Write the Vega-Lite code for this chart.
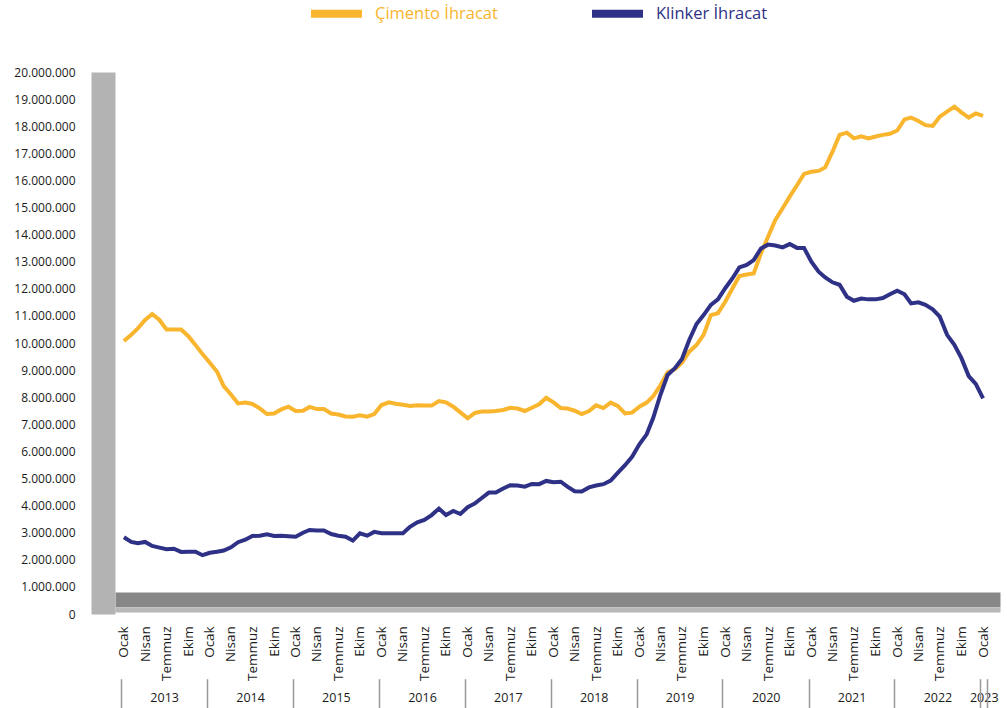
{
  "$schema": "https://vega.github.io/schema/vega-lite/v6.json",
  "width": 885,
  "height": 542,
  "autosize": {"type": "none"},
  "padding": {"left": 115, "top": 72, "right": 7, "bottom": 94},
  "background": "white",
  "config": {
    "view": {"stroke": null},
    "font": "Open Sans",
    "axis": {"grid": false, "title": null, "labelFont": "Open Sans", "labelColor": "#1a1a1a", "labelFlush": false, "labelBound": false, "labelOverlap": false},
    "legend": {"labelFont": "Open Sans"}
  },
  "data": {
    "values": [
      {"date": "2013/01/01", "Çimento İhracat": 10070000, "Klinker İhracat": 2830000},
      {"date": "2013/02/01", "Çimento İhracat": 10300000, "Klinker İhracat": 2660000},
      {"date": "2013/03/01", "Çimento İhracat": 10540000, "Klinker İhracat": 2610000},
      {"date": "2013/04/01", "Çimento İhracat": 10850000, "Klinker İhracat": 2660000},
      {"date": "2013/05/01", "Çimento İhracat": 11070000, "Klinker İhracat": 2510000},
      {"date": "2013/06/01", "Çimento İhracat": 10850000, "Klinker İhracat": 2450000},
      {"date": "2013/07/01", "Çimento İhracat": 10500000, "Klinker İhracat": 2390000},
      {"date": "2013/08/01", "Çimento İhracat": 10500000, "Klinker İhracat": 2410000},
      {"date": "2013/09/01", "Çimento İhracat": 10500000, "Klinker İhracat": 2290000},
      {"date": "2013/10/01", "Çimento İhracat": 10260000, "Klinker İhracat": 2300000},
      {"date": "2013/11/01", "Çimento İhracat": 9930000, "Klinker İhracat": 2300000},
      {"date": "2013/12/01", "Çimento İhracat": 9590000, "Klinker İhracat": 2170000},
      {"date": "2014/01/01", "Çimento İhracat": 9270000, "Klinker İhracat": 2260000},
      {"date": "2014/02/01", "Çimento İhracat": 8940000, "Klinker İhracat": 2300000},
      {"date": "2014/03/01", "Çimento İhracat": 8410000, "Klinker İhracat": 2340000},
      {"date": "2014/04/01", "Çimento İhracat": 8100000, "Klinker İhracat": 2460000},
      {"date": "2014/05/01", "Çimento İhracat": 7770000, "Klinker İhracat": 2650000},
      {"date": "2014/06/01", "Çimento İhracat": 7800000, "Klinker İhracat": 2740000},
      {"date": "2014/07/01", "Çimento İhracat": 7750000, "Klinker İhracat": 2880000},
      {"date": "2014/08/01", "Çimento İhracat": 7590000, "Klinker İhracat": 2890000},
      {"date": "2014/09/01", "Çimento İhracat": 7380000, "Klinker İhracat": 2940000},
      {"date": "2014/10/01", "Çimento İhracat": 7400000, "Klinker İhracat": 2880000},
      {"date": "2014/11/01", "Çimento İhracat": 7550000, "Klinker İhracat": 2890000},
      {"date": "2014/12/01", "Çimento İhracat": 7650000, "Klinker İhracat": 2870000},
      {"date": "2015/01/01", "Çimento İhracat": 7490000, "Klinker İhracat": 2850000},
      {"date": "2015/02/01", "Çimento İhracat": 7500000, "Klinker İhracat": 3000000},
      {"date": "2015/03/01", "Çimento İhracat": 7640000, "Klinker İhracat": 3100000},
      {"date": "2015/04/01", "Çimento İhracat": 7560000, "Klinker İhracat": 3080000},
      {"date": "2015/05/01", "Çimento İhracat": 7560000, "Klinker İhracat": 3080000},
      {"date": "2015/06/01", "Çimento İhracat": 7400000, "Klinker İhracat": 2950000},
      {"date": "2015/07/01", "Çimento İhracat": 7360000, "Klinker İhracat": 2890000},
      {"date": "2015/08/01", "Çimento İhracat": 7290000, "Klinker İhracat": 2850000},
      {"date": "2015/09/01", "Çimento İhracat": 7280000, "Klinker İhracat": 2710000},
      {"date": "2015/10/01", "Çimento İhracat": 7330000, "Klinker İhracat": 2980000},
      {"date": "2015/11/01", "Çimento İhracat": 7280000, "Klinker İhracat": 2890000},
      {"date": "2015/12/01", "Çimento İhracat": 7380000, "Klinker İhracat": 3030000},
      {"date": "2016/01/01", "Çimento İhracat": 7710000, "Klinker İhracat": 2980000},
      {"date": "2016/02/01", "Çimento İhracat": 7810000, "Klinker İhracat": 2980000},
      {"date": "2016/03/01", "Çimento İhracat": 7760000, "Klinker İhracat": 2980000},
      {"date": "2016/04/01", "Çimento İhracat": 7720000, "Klinker İhracat": 2980000},
      {"date": "2016/05/01", "Çimento İhracat": 7680000, "Klinker İhracat": 3220000},
      {"date": "2016/06/01", "Çimento İhracat": 7700000, "Klinker İhracat": 3380000},
      {"date": "2016/07/01", "Çimento İhracat": 7690000, "Klinker İhracat": 3470000},
      {"date": "2016/08/01", "Çimento İhracat": 7690000, "Klinker İhracat": 3650000},
      {"date": "2016/09/01", "Çimento İhracat": 7860000, "Klinker İhracat": 3890000},
      {"date": "2016/10/01", "Çimento İhracat": 7810000, "Klinker İhracat": 3650000},
      {"date": "2016/11/01", "Çimento İhracat": 7650000, "Klinker İhracat": 3800000},
      {"date": "2016/12/01", "Çimento İhracat": 7440000, "Klinker İhracat": 3690000},
      {"date": "2017/01/01", "Çimento İhracat": 7220000, "Klinker İhracat": 3940000},
      {"date": "2017/02/01", "Çimento İhracat": 7420000, "Klinker İhracat": 4080000},
      {"date": "2017/03/01", "Çimento İhracat": 7470000, "Klinker İhracat": 4270000},
      {"date": "2017/04/01", "Çimento İhracat": 7470000, "Klinker İhracat": 4480000},
      {"date": "2017/05/01", "Çimento İhracat": 7490000, "Klinker İhracat": 4480000},
      {"date": "2017/06/01", "Çimento İhracat": 7530000, "Klinker İhracat": 4630000},
      {"date": "2017/07/01", "Çimento İhracat": 7610000, "Klinker İhracat": 4750000},
      {"date": "2017/08/01", "Çimento İhracat": 7580000, "Klinker İhracat": 4740000},
      {"date": "2017/09/01", "Çimento İhracat": 7490000, "Klinker İhracat": 4700000},
      {"date": "2017/10/01", "Çimento İhracat": 7610000, "Klinker İhracat": 4800000},
      {"date": "2017/11/01", "Çimento İhracat": 7740000, "Klinker İhracat": 4790000},
      {"date": "2017/12/01", "Çimento İhracat": 7980000, "Klinker İhracat": 4910000},
      {"date": "2018/01/01", "Çimento İhracat": 7810000, "Klinker İhracat": 4860000},
      {"date": "2018/02/01", "Çimento İhracat": 7600000, "Klinker İhracat": 4880000},
      {"date": "2018/03/01", "Çimento İhracat": 7580000, "Klinker İhracat": 4700000},
      {"date": "2018/04/01", "Çimento İhracat": 7500000, "Klinker İhracat": 4530000},
      {"date": "2018/05/01", "Çimento İhracat": 7380000, "Klinker İhracat": 4520000},
      {"date": "2018/06/01", "Çimento İhracat": 7490000, "Klinker İhracat": 4670000},
      {"date": "2018/07/01", "Çimento İhracat": 7700000, "Klinker İhracat": 4740000},
      {"date": "2018/08/01", "Çimento İhracat": 7600000, "Klinker İhracat": 4790000},
      {"date": "2018/09/01", "Çimento İhracat": 7800000, "Klinker İhracat": 4920000},
      {"date": "2018/10/01", "Çimento İhracat": 7680000, "Klinker İhracat": 5210000},
      {"date": "2018/11/01", "Çimento İhracat": 7400000, "Klinker İhracat": 5490000},
      {"date": "2018/12/01", "Çimento İhracat": 7430000, "Klinker İhracat": 5800000},
      {"date": "2019/01/01", "Çimento İhracat": 7650000, "Klinker İhracat": 6260000},
      {"date": "2019/02/01", "Çimento İhracat": 7800000, "Klinker İhracat": 6630000},
      {"date": "2019/03/01", "Çimento İhracat": 8040000, "Klinker İhracat": 7240000},
      {"date": "2019/04/01", "Çimento İhracat": 8450000, "Klinker İhracat": 8100000},
      {"date": "2019/05/01", "Çimento İhracat": 8920000, "Klinker İhracat": 8820000},
      {"date": "2019/06/01", "Çimento İhracat": 9030000, "Klinker İhracat": 9070000},
      {"date": "2019/07/01", "Çimento İhracat": 9270000, "Klinker İhracat": 9410000},
      {"date": "2019/08/01", "Çimento İhracat": 9680000, "Klinker İhracat": 10110000},
      {"date": "2019/09/01", "Çimento İhracat": 9930000, "Klinker İhracat": 10700000},
      {"date": "2019/10/01", "Çimento İhracat": 10300000, "Klinker İhracat": 11030000},
      {"date": "2019/11/01", "Çimento İhracat": 11030000, "Klinker İhracat": 11410000},
      {"date": "2019/12/01", "Çimento İhracat": 11100000, "Klinker İhracat": 11610000},
      {"date": "2020/01/01", "Çimento İhracat": 11520000, "Klinker İhracat": 12020000},
      {"date": "2020/02/01", "Çimento İhracat": 12020000, "Klinker İhracat": 12390000},
      {"date": "2020/03/01", "Çimento İhracat": 12470000, "Klinker İhracat": 12790000},
      {"date": "2020/04/01", "Çimento İhracat": 12530000, "Klinker İhracat": 12880000},
      {"date": "2020/05/01", "Çimento İhracat": 12570000, "Klinker İhracat": 13060000},
      {"date": "2020/06/01", "Çimento İhracat": 13310000, "Klinker İhracat": 13490000},
      {"date": "2020/07/01", "Çimento İhracat": 13920000, "Klinker İhracat": 13630000},
      {"date": "2020/08/01", "Çimento İhracat": 14540000, "Klinker İhracat": 13600000},
      {"date": "2020/09/01", "Çimento İhracat": 14970000, "Klinker İhracat": 13530000},
      {"date": "2020/10/01", "Çimento İhracat": 15400000, "Klinker İhracat": 13650000},
      {"date": "2020/11/01", "Çimento İhracat": 15820000, "Klinker İhracat": 13510000},
      {"date": "2020/12/01", "Çimento İhracat": 16240000, "Klinker İhracat": 13510000},
      {"date": "2021/01/01", "Çimento İhracat": 16320000, "Klinker İhracat": 13000000},
      {"date": "2021/02/01", "Çimento İhracat": 16350000, "Klinker İhracat": 12630000},
      {"date": "2021/03/01", "Çimento İhracat": 16480000, "Klinker İhracat": 12420000},
      {"date": "2021/04/01", "Çimento İhracat": 17060000, "Klinker İhracat": 12240000},
      {"date": "2021/05/01", "Çimento İhracat": 17680000, "Klinker İhracat": 12150000},
      {"date": "2021/06/01", "Çimento İhracat": 17760000, "Klinker İhracat": 11710000},
      {"date": "2021/07/01", "Çimento İhracat": 17550000, "Klinker İhracat": 11560000},
      {"date": "2021/08/01", "Çimento İhracat": 17630000, "Klinker İhracat": 11640000},
      {"date": "2021/09/01", "Çimento İhracat": 17550000, "Klinker İhracat": 11610000},
      {"date": "2021/10/01", "Çimento İhracat": 17620000, "Klinker İhracat": 11610000},
      {"date": "2021/11/01", "Çimento İhracat": 17680000, "Klinker İhracat": 11660000},
      {"date": "2021/12/01", "Çimento İhracat": 17720000, "Klinker İhracat": 11800000},
      {"date": "2022/01/01", "Çimento İhracat": 17840000, "Klinker İhracat": 11930000},
      {"date": "2022/02/01", "Çimento İhracat": 18250000, "Klinker İhracat": 11800000},
      {"date": "2022/03/01", "Çimento İhracat": 18320000, "Klinker İhracat": 11460000},
      {"date": "2022/04/01", "Çimento İhracat": 18190000, "Klinker İhracat": 11500000},
      {"date": "2022/05/01", "Çimento İhracat": 18040000, "Klinker İhracat": 11410000},
      {"date": "2022/06/01", "Çimento İhracat": 18010000, "Klinker İhracat": 11240000},
      {"date": "2022/07/01", "Çimento İhracat": 18350000, "Klinker İhracat": 10970000},
      {"date": "2022/08/01", "Çimento İhracat": 18540000, "Klinker İhracat": 10300000},
      {"date": "2022/09/01", "Çimento İhracat": 18720000, "Klinker İhracat": 9930000},
      {"date": "2022/10/01", "Çimento İhracat": 18510000, "Klinker İhracat": 9440000},
      {"date": "2022/11/01", "Çimento İhracat": 18320000, "Klinker İhracat": 8780000},
      {"date": "2022/12/01", "Çimento İhracat": 18470000, "Klinker İhracat": 8490000},
      {"date": "2023/01/01", "Çimento İhracat": 18380000, "Klinker İhracat": 7960000}
    ]
  },
  "transform": [
    {"fold": ["Çimento İhracat", "Klinker İhracat"], "as": ["series", "value"]}
  ],
  "resolve": {"axis": {"x": "independent", "y": "independent"}},
  "layer": [
    {
      "mark": {"type": "line", "strokeWidth": 4},
      "encoding": {
        "x": {
          "field": "date", "type": "temporal",
          "scale": {"domain": [{"year": 2012, "month": 11, "date": 24}, {"year": 2023, "month": 3, "date": 14}]},
          "axis": {
            "orient": "bottom", "offset": -14.7, "domain": true, "domainWidth": 14.7, "domainColor": "#878787",
            "ticks": false, "tickSize": 0, "labelPadding": 26.5, "labelAngle": -90, "labelFontSize": 13.5,
            "tickCount": {"interval": "month", "step": 3},
            "labelExpr": "['Ocak','Şubat','Mart','Nisan','Mayıs','Haziran','Temmuz','Ağustos','Eylül','Ekim','Kasım','Aralık'][month(datum.value)]"
          }
        },
        "y": {
          "field": "value", "type": "quantitative",
          "scale": {"domain": [0, 20000000], "nice": false, "zero": true},
          "axis": {
            "orient": "left", "offset": 12, "domain": true, "domainWidth": 24, "domainColor": "#B3B3B3",
            "ticks": false, "tickSize": 0, "labelPadding": 28, "labelFontSize": 12,
            "values": [0, 1000000, 2000000, 3000000, 4000000, 5000000, 6000000, 7000000, 8000000, 9000000, 10000000, 11000000, 12000000, 13000000, 14000000, 15000000, 16000000, 17000000, 18000000, 19000000, 20000000],
            "labelExpr": "datum.value == 0 ? '0' : replace(replace(format(datum.value, ','), ',', '.'), ',', '.')"
          }
        },
        "color": {
          "field": "series", "type": "nominal",
          "scale": {"domain": ["Çimento İhracat", "Klinker İhracat"], "range": ["#F8B52D", "#2E3185"]},
          "legend": {
            "title": null, "orient": "none", "direction": "horizontal", "legendX": 192, "legendY": -88,
            "padding": 0, "symbolType": "stroke", "symbolSize": 2601, "symbolStrokeWidth": 8,
            "labelFontSize": 16.5, "labelOffset": 9, "columnPadding": 78, "labelLimit": 300,
            "labelColor": {"expr": "datum.value == 'Klinker İhracat' ? '#2E3185' : '#F8B52D'"}
          }
        }
      }
    },
    {
      "mark": {"type": "point", "opacity": 0},
      "encoding": {
        "x": {
          "field": "date", "type": "temporal",
          "axis": {
            "orient": "bottom", "offset": -4.7, "domain": true, "domainWidth": 5.3, "domainColor": "#B8B8B8",
            "ticks": false, "tickSize": 0, "labelPadding": 88.5, "labelBaseline": "middle", "labelAngle": 0,
            "labelFontSize": 12.5, "format": "%Y",
            "values": [
              {"year": 2013, "month": 6, "date": 21}, {"year": 2014, "month": 6, "date": 21},
              {"year": 2015, "month": 6, "date": 21}, {"year": 2016, "month": 6, "date": 21},
              {"year": 2017, "month": 6, "date": 21}, {"year": 2018, "month": 6, "date": 21},
              {"year": 2019, "month": 6, "date": 21}, {"year": 2020, "month": 6, "date": 21},
              {"year": 2021, "month": 6, "date": 21}, {"year": 2022, "month": 6, "date": 21},
              {"year": 2023, "month": 1, "date": 4}
            ]
          }
        },
        "y": {"field": "value", "type": "quantitative", "axis": null}
      }
    },
    {
      "mark": {"type": "point", "opacity": 0},
      "encoding": {
        "x": {
          "field": "date", "type": "temporal",
          "axis": {
            "orient": "bottom", "offset": 64.7, "domain": false, "labels": false,
            "ticks": true, "tickSize": 30, "tickWidth": 1.5, "tickColor": "#999999",
            "values": [
              {"year": 2012, "month": 12, "date": 20}, {"year": 2013, "month": 12, "date": 20},
              {"year": 2014, "month": 12, "date": 20}, {"year": 2015, "month": 12, "date": 20},
              {"year": 2016, "month": 12, "date": 20}, {"year": 2017, "month": 12, "date": 20},
              {"year": 2018, "month": 12, "date": 20}, {"year": 2019, "month": 12, "date": 20},
              {"year": 2020, "month": 12, "date": 20}, {"year": 2021, "month": 12, "date": 20},
              {"year": 2022, "month": 12, "date": 20}, {"year": 2023, "month": 1, "date": 18}
            ]
          }
        },
        "y": {"field": "value", "type": "quantitative", "axis": null}
      }
    }
  ]
}
